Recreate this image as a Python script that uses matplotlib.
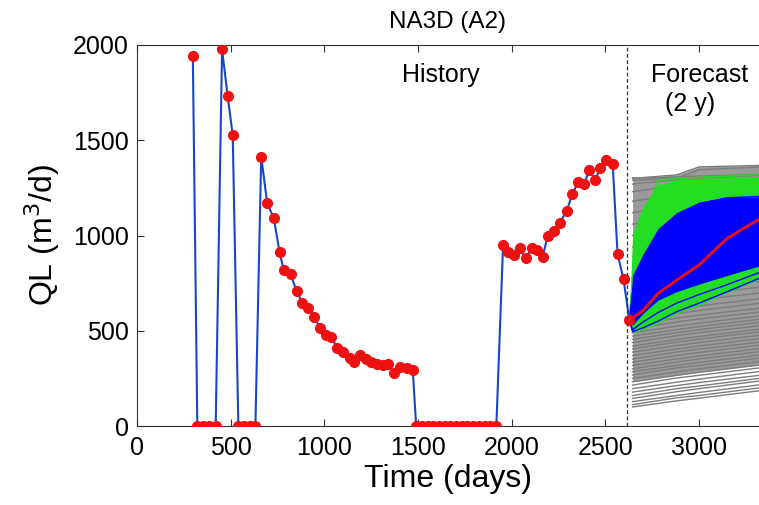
import matplotlib
matplotlib.use("Agg")
import matplotlib.pyplot as plt

plt.rcParams['font.family'] = ['Liberation Sans', 'DejaVu Sans']

# observed history (days, QL m3/d)
hist_days = [298, 322, 352, 383, 420, 454, 484, 511, 541, 571, 601, 632,
             663, 695, 730, 761, 784, 820, 852, 883, 915, 945, 977, 1008,
             1038, 1070, 1102, 1138, 1160, 1192, 1222, 1249, 1281, 1311, 1341,
             1374, 1406, 1442, 1472, 1490, 1520, 1551, 1581, 1612, 1642, 1673,
             1703, 1734, 1764, 1795, 1825, 1856, 1886, 1918, 1954, 1981, 2011,
             2043, 2076, 2106, 2133, 2165, 2192, 2228, 2258, 2294, 2324, 2353,
             2388, 2413, 2446, 2472, 2503, 2539, 2565, 2597, 2628]
hist_ql = [1942, 0, 0, 0, 0, 1977, 1732, 1526, 0, 0, 0, 0,
           1414, 1169, 1092, 912, 817, 796, 708, 646, 619, 574, 515, 480,
           466, 408, 388, 355, 338, 372, 350, 338, 325, 320, 325,
           277, 311, 303, 294, 0, 0, 0, 0, 0, 0, 0,
           0, 0, 0, 0, 0, 0, 0, 0, 950, 915, 898,
           933, 880, 933, 924, 889, 996, 1022, 1068, 1131, 1216, 1279,
           1268, 1344, 1291, 1352, 1396, 1375, 903, 770, 556]

# prior ensemble (grey), values at gray_t
gray_t = [2645, 2880, 3000, 3320]
gray_q0 = [100, 112, 128, 145, 160, 178, 196, 215, 232, 250, 268, 285, 300, 318,
           335, 352, 370, 388, 405, 420, 438, 455, 472, 490, 510, 530, 555, 580,
           610, 640, 675, 710, 750, 790, 840, 890, 940, 1000, 1060, 1120, 1180,
           1230, 1270, 1290, 1300, 1302]
gray_q1 = [132, 148, 160, 180, 196, 212, 230, 252, 266, 284, 305, 318, 336, 352,
           370, 388, 404, 422, 440, 454, 474, 490, 506, 524, 546, 566, 590, 614,
           646, 676, 710, 746, 786, 826, 876, 926, 976, 1036, 1096, 1156, 1215,
           1262, 1292, 1300, 1318, 1306]
gray_q2 = [146, 160, 176, 196, 210, 228, 246, 266, 282, 300, 318, 334, 352, 368,
           386, 404, 420, 438, 456, 470, 490, 506, 522, 540, 562, 582, 606, 630,
           662, 692, 726, 762, 802, 842, 892, 942, 992, 1052, 1112, 1172, 1230,
           1275, 1300, 1345, 1360, 1312]
gray_q3 = [185, 200, 216, 236, 250, 266, 286, 305, 320, 338, 356, 372, 390, 406,
           424, 440, 458, 476, 494, 508, 526, 544, 560, 578, 598, 618, 644, 668,
           698, 728, 762, 798, 838, 878, 928, 978, 1028, 1088, 1148, 1208, 1262,
           1300, 1315, 1360, 1368, 1320]

# conditioned forecast envelopes
fc_days = [2628, 2645, 2700, 2780, 2880, 3000, 3150, 3320]
green_hi = [556, 1000, 1150, 1265, 1295, 1300, 1305, 1310]
green_lo = [556, 490, 505, 540, 590, 635, 700, 770]
blue_hi = [556, 790, 900, 1035, 1120, 1175, 1200, 1203]
blue_lo = [556, 530, 590, 660, 705, 745, 790, 840]
red_mean = [556, 568, 605, 695, 765, 845, 985, 1085]

# single members sticking out of the bands
green_a = [556, 780, 1060, 1290, 1300, 1305, 1312, 1318]
blue_a = [556, 495, 515, 550, 600, 645, 705, 775]
blue_b = [556, 505, 545, 595, 645, 690, 742, 805]
blue_c = [556, 700, 840, 990, 1100, 1168, 1198, 1205]

fig = plt.figure(figsize=(7.59, 5.05), dpi=100)
ax = fig.add_axes([0.1805, 0.1564, 0.8195, 0.7545])

lo_i, hi_i = 8, 44
ax.fill_between(gray_t,
                [gray_q0[lo_i], gray_q1[lo_i], gray_q2[lo_i], gray_q3[lo_i]],
                [gray_q0[hi_i], gray_q1[hi_i], gray_q2[hi_i], gray_q3[hi_i]],
                color='#9a9a9a', lw=0, zorder=1)
for i in range(len(gray_q0)):
    ax.plot(gray_t, [gray_q0[i], gray_q1[i], gray_q2[i], gray_q3[i]],
            color='#7c7c7c', lw=1.0, zorder=1)

ax.fill_between(fc_days, green_lo, green_hi, color='#22dd22', lw=0, zorder=2)
ax.plot(fc_days, green_a, color='#22dd22', lw=1.2, zorder=2)
ax.fill_between(fc_days, blue_lo, blue_hi, color='#0000ff', lw=0, zorder=3)
for member in [blue_a, blue_b, blue_c]:
    ax.plot(fc_days, member, color='#0000ff', lw=1.0, zorder=3)
ax.plot(fc_days, red_mean, color='#e0101a', lw=2.2, zorder=4)

ax.plot(hist_days, hist_ql, color='#1846c8', lw=1.5, zorder=5)
ax.plot(hist_days, hist_ql, 'o', color='#ee1111', ms=7, mec='#ee1111', zorder=6)

ax.axvline(2618, color='#333333', lw=0.9, ls=(0, (3, 2)), zorder=7)

ax.text(1620, 1842, 'History', ha='center', va='center', fontsize=18)
ax.text(2745, 1842, 'Forecast', ha='left', va='center', fontsize=18)
ax.text(2950, 1692, '(2 y)', ha='center', va='center', fontsize=18)

ax.set_xlim(0, 3320)
ax.set_ylim(0, 2000)
ax.set_xticks([0, 500, 1000, 1500, 2000, 2500, 3000])
ax.set_yticks([0, 500, 1000, 1500, 2000])
ax.tick_params(direction='in', top=True, right=False, length=5,
               labelsize=18, color='#333333')
ax.tick_params(axis='x', pad=7)
ax.tick_params(axis='y', pad=6)
ax.spines['right'].set_visible(False)
for s in ['left', 'bottom', 'top']:
    ax.spines[s].set_color('#333333')

ax.set_xlabel('Time (days)', fontsize=23, labelpad=3)
ax.set_ylabel('QL (m$^3$/d)', fontsize=23, labelpad=8)
ax.set_title('NA3D (A2)', fontsize=17.5, pad=12)

fig.savefig('out.png', dpi=100)
